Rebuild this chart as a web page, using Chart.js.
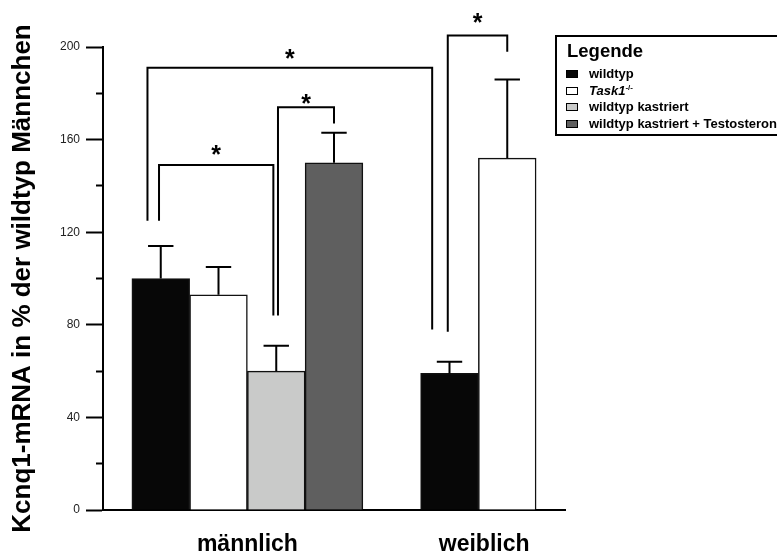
<!DOCTYPE html>
<html lang="de">
<head>
<meta charset="utf-8">
<title>Kcnq1-mRNA</title>
<script src="https://cdn.jsdelivr.net/npm/chart.js@4.4.1/dist/chart.umd.min.js"></script>
<style>
  html, body { margin: 0; padding: 0; background: #fff; overflow: hidden; }
  #wrap { position: relative; width: 777px; height: 557px; overflow: hidden; }
  #chart { position: absolute; left: 0; top: 0; }
  #legend {
    position: absolute; left: 555px; top: 35px; width: 260px; height: 101px;
    box-sizing: border-box; border: 2px solid #000;
    font-family: 'Liberation Sans', Arial, sans-serif; color: #000;
  }
  #legend .title { position: absolute; left: 10px; top: 5px; font-size: 18.5px; font-weight: bold; line-height: 1; }
  #legend .item { position: absolute; left: 9px; height: 13px; font-size: 13px; font-weight: bold; line-height: 1; white-space: nowrap; }
  #legend .swatch { position: absolute; left: 0; top: 3px; width: 12px; height: 8px; box-sizing: border-box; border: 1.5px solid #000; }
  #legend .name { position: absolute; left: 23px; top: 0; }
  #legend sup { font-size: 8px; vertical-align: 5px; }
</style>
</head>
<body>
<div id="wrap">
  <canvas id="chart" width="777" height="557"></canvas>
  <div id="legend"><div class="title">Legende</div></div>
</div>
<script>
(function () {
  'use strict';

  // groups on the x axis and where their labels sit (in bar slots)
  const groupLabels = ['männlich', 'weiblich'];
  const groupTickPos = [2.5, 6.6];

  const seriesLabels = ['wildtyp', '<i>Task1</i><sup>-/-</sup>', 'wildtyp kastriert', 'wildtyp kastriert + Testosteron'];
  const seriesColors = ['#070707', '#ffffff', '#c9cac9', '#5f5f5f'];

  // one entry per bar
  const barSlot = [1, 2, 3, 4, 6, 7];
  const barSeries = [0, 1, 2, 3, 0, 1];
  const barMean = [100, 93, 60, 150, 59, 152];
  const barError = [14, 12, 11, 13, 5, 34];

  // significance brackets: slot positions of both legs, leg ends, bracket top, star level
  const bracketFrom = [0.97, 3.03, 0.77, 5.97];
  const bracketTo = [2.95, 4.0, 5.7, 7.0];
  const bracketFromY = [125, 84, 125, 77];
  const bracketToY = [84, 167, 78, 198];
  const bracketTop = [149, 174, 191, 205];
  const starLevel = [156, 178, 197.5, 213];

  const yTitle = 'Kcnq1-mRNA in % der wildtyp Männchen';

  // legend box
  const legend = document.getElementById('legend');
  seriesLabels.forEach((label, i) => {
    const item = document.createElement('div');
    const swatch = document.createElement('span');
    const name = document.createElement('span');
    item.className = 'item';
    item.style.top = (30 + i * 16.7) + 'px';
    swatch.className = 'swatch';
    swatch.style.background = seriesColors[i];
    name.className = 'name';
    name.innerHTML = label;
    item.append(swatch, name);
    legend.appendChild(item);
  });

  const annotations = {
    id: 'annotations',
    afterDatasetsDraw(chart) {
      const { ctx, scales: { x, y } } = chart;
      const bars = chart.getDatasetMeta(0).data;
      ctx.save();
      ctx.strokeStyle = '#000';
      ctx.lineWidth = 2;

      bars.forEach((bar, i) => {
        const top = y.getPixelForValue(barMean[i] + barError[i]);
        const half = bar.width * 0.22;
        ctx.beginPath();
        ctx.moveTo(bar.x, y.getPixelForValue(barMean[i]));
        ctx.lineTo(bar.x, top);
        ctx.moveTo(bar.x - half, top);
        ctx.lineTo(bar.x + half, top);
        ctx.stroke();
      });

      ctx.font = "bold 25px 'Liberation Sans', Arial, sans-serif";
      ctx.fillStyle = '#000';
      ctx.textAlign = 'center';
      ctx.textBaseline = 'alphabetic';
      bracketFrom.forEach((from, i) => {
        const x1 = x.getPixelForValue(from);
        const x2 = x.getPixelForValue(bracketTo[i]);
        const top = y.getPixelForValue(bracketTop[i]);
        ctx.beginPath();
        ctx.moveTo(x1, y.getPixelForValue(bracketFromY[i]));
        ctx.lineTo(x1, top);
        ctx.lineTo(x2, top);
        ctx.lineTo(x2, y.getPixelForValue(bracketToY[i]));
        ctx.stroke();
        ctx.fillText('*', (x1 + x2) / 2, y.getPixelForValue(starLevel[i]) + 14);
      });
      ctx.restore();
    },
  };

  Chart.defaults.font.family = "'Liberation Sans', Arial, sans-serif";
  Chart.defaults.color = '#000';

  new Chart(document.getElementById('chart'), {
    type: 'bar',
    data: {
      datasets: [{
        data: barSlot.map((slot, i) => ({ x: slot, y: barMean[i] })),
        backgroundColor: barSeries.map((s) => seriesColors[s]),
        borderColor: '#111',
        borderWidth: 1.5,
        barPercentage: 1,
        categoryPercentage: 1,
      }],
    },
    options: {
      responsive: false,
      animation: false,
      layout: { padding: { top: 47, right: 212, left: 0, bottom: 0 } },
      plugins: { legend: { display: false }, tooltip: { enabled: false } },
      scales: {
        x: {
          type: 'linear',
          min: 0,
          max: 8,
          offset: false,
          afterBuildTicks: (axis) => { axis.ticks = groupTickPos.map((value) => ({ value })); },
          afterFit: (axis) => { axis.height = 47; },
          grid: { display: false, drawTicks: false },
          border: { display: true, color: '#000', width: 2 },
          ticks: {
            autoSkip: false,
            maxRotation: 0,
            padding: 21,
            color: '#000',
            font: { size: 23, weight: 'bold' },
            callback: (value, index) => groupLabels[index],
          },
        },
        y: {
          min: 0,
          max: 200,
          afterFit: (axis) => { axis.width = 103; },
          border: { color: '#000', width: 2 },
          grid: {
            drawOnChartArea: false,
            tickLength: 17,
            tickWidth: 2,
            tickColor: '#000',
            tickBorderDash: (c) => (c.tick && c.tick.value % 40 ? [0, 10, 7, 30] : []),
          },
          ticks: {
            stepSize: 20,
            padding: 6,
            color: '#222',
            font: { size: 12 },
            callback: (value) => (value % 40 === 0 ? value : ''),
          },
          title: {
            display: true,
            text: yTitle,
            color: '#000',
            font: { size: 26, weight: 'bold' },
            padding: { top: 7, bottom: 0 },
          },
        },
      },
    },
    plugins: [annotations],
  });
})();
</script>
</body>
</html>
